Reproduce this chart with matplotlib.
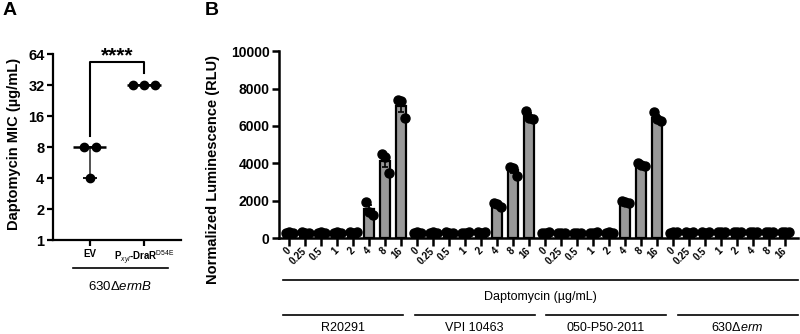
import matplotlib
matplotlib.use("Agg")
import matplotlib.pyplot as plt
import matplotlib.transforms as mtransforms
from matplotlib.lines import Line2D
import numpy as np

plt.rcParams['font.family'] = ['Liberation Sans', 'DejaVu Sans']
plt.rcParams['mathtext.fontset'] = 'custom'
plt.rcParams['mathtext.rm'] = 'Liberation Sans'
plt.rcParams['mathtext.it'] = 'Liberation Sans:italic'
plt.rcParams['mathtext.bf'] = 'Liberation Sans:bold'

# ---- panel A data (MIC, ug/mL) ----
mic_labels = ['EV', r'$\mathbf{P}_{\mathit{xyl}}$-DraR$^{\mathrm{D54E}}$']
mic_ev = [8, 8, 4]
mic_drar = [32, 32, 32]
mic_ticks = [1, 2, 4, 8, 16, 32, 64]

# ---- panel B data (RLU, 3 replicates per dose) ----
doses = ['0', '0.25', '0.5', '1', '2', '4', '8', '16']
strains = ['R20291', 'VPI 10463', '050-P50-2011', '630Δ$\\mathit{erm}$']
lum_r20291 = [[300, 320, 280], [310, 290, 300], [300, 320, 290], [290, 310, 300],
              [320, 300, 340], [1950, 1400, 1250], [4500, 4350, 3500], [7400, 7350, 6450]]
lum_vpi10463 = [[300, 310, 290], [300, 320, 290], [310, 290, 300], [300, 290, 310],
                [310, 300, 320], [1900, 1800, 1650], [3800, 3750, 3300], [6800, 6450, 6350]]
lum_050p50 = [[290, 300, 310], [300, 290, 280], [280, 300, 290], [300, 290, 310],
              [300, 320, 290], [2000, 1950, 1900], [4000, 3900, 3850], [6750, 6350, 6250]]
lum_630erm = [[300, 320, 310], [310, 300, 320], [320, 300, 310], [330, 350, 320],
              [340, 320, 330], [330, 310, 320], [320, 340, 310], [350, 330, 340]]

fig = plt.figure(figsize=(8, 3.34), dpi=100)

# =================== panel A ===================
axA = fig.add_axes([0.066, 0.280, 0.160, 0.558])
axA.set_yscale('log', base=2)
axA.set_ylim(1, 64)
axA.set_xlim(-0.68, 1.68)

for i, vals in enumerate([mic_ev, mic_drar]):
    vals = np.array(vals, dtype=float)
    med = np.median(vals)
    axA.vlines(i, vals.min(), vals.max(), color='#444444', lw=1.3, zorder=2)
    axA.hlines(vals.min(), i - 0.13, i + 0.13, color='black', lw=1.3, zorder=2)
    axA.hlines(vals.max(), i - 0.13, i + 0.13, color='black', lw=1.3, zorder=2)
    axA.hlines(med, i - 0.31, i + 0.31, color='black', lw=1.8, zorder=3)

ev_off = [-0.11, 0.11, 0.0]
drar_off = [-0.21, 0.0, 0.21]
axA.plot(np.array(ev_off) + 0, mic_ev, 'o', color='black', ms=6, zorder=4)
axA.plot(np.array(drar_off) + 1, mic_drar, 'o', color='black', ms=6, zorder=4)

# significance bracket
axA.plot([0, 0, 1, 1], [10.2, 54, 54, 42], color='black', lw=1.5, clip_on=False)
axA.text(0.5, 50, '****', ha='center', va='bottom', fontsize=15, fontweight='bold')

axA.set_yticks(mic_ticks)
axA.set_yticklabels([str(t) for t in mic_ticks])
axA.yaxis.set_minor_locator(matplotlib.ticker.NullLocator())
axA.set_xticks([0, 1])
axA.set_xticklabels(mic_labels, fontsize=7, fontweight='bold')
for lab in axA.get_yticklabels():
    lab.set_fontweight('bold')
    lab.set_fontsize(10.5)
axA.tick_params(axis='both', width=1.6, length=4, pad=2)
for s in ['top', 'right']:
    axA.spines[s].set_visible(False)
for s in ['left', 'bottom']:
    axA.spines[s].set_linewidth(1.6)

fig.text(0.018, 0.569, 'Daptomycin MIC (µg/mL)', rotation=90, ha='center',
         va='center', fontsize=10.5, fontweight='bold')
fig.add_artist(Line2D([0.091, 0.210], [0.198, 0.198], color='black', lw=1.2,
                      transform=fig.transFigure))
fig.text(0.150, 0.141, '630Δ$\\mathit{ermB}$', ha='center', va='center', fontsize=9.5)
fig.text(0.003, 0.995, 'A', ha='left', va='top', fontsize=14, fontweight='bold')

# =================== panel B ===================
axB = fig.add_axes([0.349, 0.287, 0.6485, 0.560])
groups = [lum_r20291, lum_vpi10463, lum_050p50, lum_630erm]
reps = np.array(groups, dtype=float).reshape(-1, 3)
pos = np.arange(len(reps))
means = reps.mean(axis=1)
sems = reps.std(axis=1, ddof=1) / np.sqrt(reps.shape[1])

axB.bar(pos, means, width=0.66, color='#999999', edgecolor='black', linewidth=1.6, zorder=2)
axB.errorbar(pos, means, yerr=sems, fmt='none', ecolor='black', elinewidth=1.2,
             capsize=2.2, capthick=1.2, zorder=3)
dot_off = np.array([-0.22, 0.0, 0.22])
for p, r in zip(pos, reps):
    axB.plot(p + dot_off, r, 'o', color='black', ms=6.5, zorder=4, clip_on=False)

axB.set_xlim(-0.625, 31.8)
axB.set_ylim(0, 10000)
axB.set_yticks(range(0, 10001, 2000))
for lab in axB.get_yticklabels():
    lab.set_fontweight('bold')
    lab.set_fontsize(10)
axB.set_xticks(pos)
axB.set_xticklabels(doses * len(strains), rotation=45, ha='right', va='center',
                    rotation_mode='anchor', fontsize=7, fontweight='bold')
shift = mtransforms.ScaledTranslation(4 / 100, -4 / 100, fig.dpi_scale_trans)
for lab in axB.get_xticklabels():
    lab.set_transform(lab.get_transform() + shift)
axB.tick_params(axis='x', width=1.8, length=6, pad=2)
axB.tick_params(axis='y', width=1.8, length=5, pad=2)
for s in ['top', 'right']:
    axB.spines[s].set_visible(False)
for s in ['left', 'bottom']:
    axB.spines[s].set_linewidth(1.8)

fig.text(0.266, 0.494, 'Normalized Luminescence (RLU)', rotation=90, ha='center',
         va='center', fontsize=10.5, fontweight='bold')
fig.text(0.256, 0.995, 'B', ha='left', va='top', fontsize=14, fontweight='bold')

# dose label and strain group lines
fig.add_artist(Line2D([0.354, 0.9975], [0.162, 0.162], color='black', lw=1.2,
                      transform=fig.transFigure))
fig.text(0.676, 0.111, 'Daptomycin (µg/mL)', ha='center', va='center', fontsize=9)
for g, name in enumerate(strains):
    x0 = 0.354 + g * 0.1643
    x1 = x0 + 0.150
    fig.add_artist(Line2D([x0, x1], [0.057, 0.057], color='black', lw=1.2,
                          transform=fig.transFigure))
    fig.text((x0 + x1) / 2, 0.018, name, ha='center', va='center', fontsize=9)

fig.savefig('out.png', dpi=100)
